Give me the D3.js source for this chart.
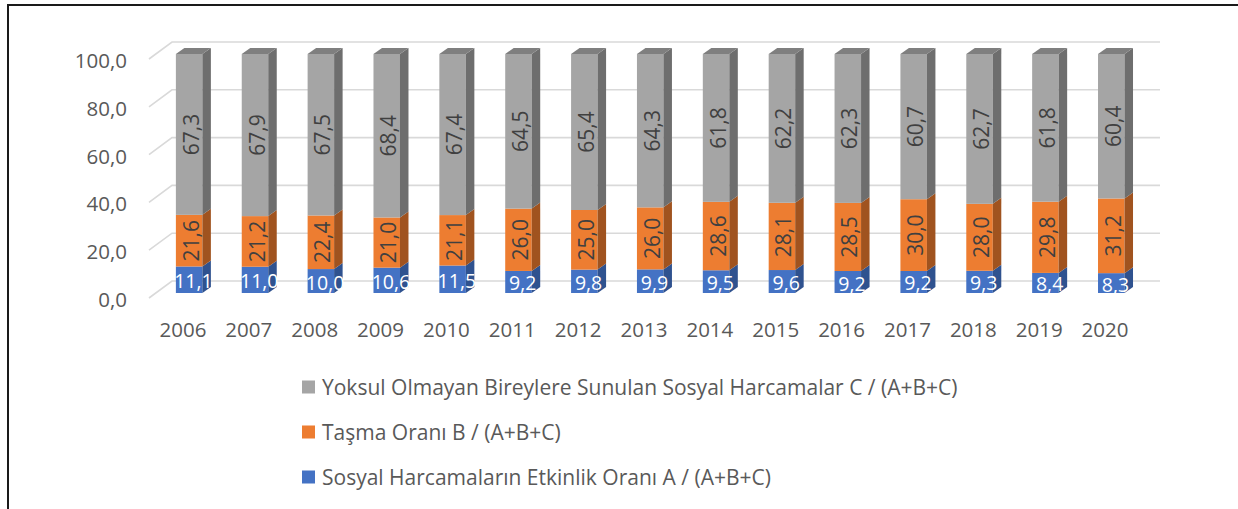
<!DOCTYPE html>
<html>
<head>
<meta charset="utf-8">
<script src="https://cdn.jsdelivr.net/npm/d3@7"></script>
<style>
  html, body { margin: 0; padding: 0; background: #fff; }
  svg { display: block; font-family: "Open Sans", sans-serif; }
</style>
</head>
<body>
<svg id="chart" width="1238" height="509"></svg>
<script>
// Years on the category axis
const years = ["2006","2007","2008","2009","2010","2011","2012","2013","2014","2015","2016","2017","2018","2019","2020"];

// A / (A+B+C): effectiveness ratio of social spending
const seriesA = [11.1, 11.0, 10.0, 10.6, 11.5, 9.2, 9.8, 9.9, 9.5, 9.6, 9.2, 9.2, 9.3, 8.4, 8.3];
// B / (A+B+C): spillover ratio
const seriesB = [21.6, 21.2, 22.4, 21.0, 21.1, 26.0, 25.0, 26.0, 28.6, 28.1, 28.5, 30.0, 28.0, 29.8, 31.2];
// C / (A+B+C): spending going to non-poor individuals
const seriesC = [67.3, 67.9, 67.5, 68.4, 67.4, 64.5, 65.4, 64.3, 61.8, 62.2, 62.3, 60.7, 62.7, 61.8, 60.4];

const seriesNames = [
  "Sosyal Harcamaların Etkinlik Oranı A / (A+B+C)",
  "Taşma Oranı B / (A+B+C)",
  "Yoksul Olmayan Bireylere Sunulan Sosyal Harcamalar C / (A+B+C)"
];

const yTicks = [0, 20, 40, 60, 80, 100];

const svg = d3.select("#chart");
const locale = d3.formatLocale({ decimal: ",", thousands: ".", grouping: [3], currency: ["", ""] });
const fmt = locale.format(".1f");

// Back wall of the 3D plot area; depth projects down-left
const yBack = d3.scaleLinear().domain([0, 100]).range([281, 42]);
const xBack = d3.scaleBand().domain(years).range([172, 1160]);
const depth = { dx: -23, dy: 17 };          // back wall -> front plane
const barFront = { dx: -15.8, dy: 12 };      // front face of the bars
const barBack = { dx: -7.3, dy: 6 };         // rear face of the bars
const barW = 26.5;

// Chart frame
svg.append("line").attr("x1", 8).attr("y1", 5).attr("x2", 8).attr("y2", 509)
  .attr("stroke", "#1a1a1a").attr("stroke-width", 2);
svg.append("line").attr("x1", 7).attr("y1", 5).attr("x2", 1238).attr("y2", 5)
  .attr("stroke", "#1a1a1a").attr("stroke-width", 2);

// Gridlines on back wall plus side-wall diagonals
const grid = svg.append("g").attr("stroke", "#d9d9d9").attr("stroke-width", 1.6).attr("fill", "none");
yTicks.forEach(t => {
  const y = yBack(t);
  const x0 = xBack.range()[0], x1 = xBack.range()[1];
  grid.append("path").attr("d", `M${x0 + depth.dx},${y + depth.dy}L${x0},${y}L${x1},${y}`);
});

// Value axis labels (front plane)
svg.append("g").selectAll("text").data(yTicks).join("text")
  .attr("x", 127).attr("y", t => yBack(t) + depth.dy + 1)
  .attr("text-anchor", "end").attr("dominant-baseline", "central")
  .attr("font-size", 20.5).attr("fill", "#595959")
  .text(t => fmt(t));

// Category labels
svg.append("g").selectAll("text").data(years).join("text")
  .attr("x", d => xBack(d) + xBack.bandwidth() / 2 + depth.dx + 1)
  .attr("y", 329).attr("text-anchor", "middle").attr("dominant-baseline", "central")
  .attr("font-size", 20.5).attr("fill", "#595959")
  .text(d => d);

// Stack the three shares (100% stacked)
const rows = years.map((y, i) => ({ year: y, A: seriesA[i], B: seriesB[i], C: seriesC[i] }));
const stack = d3.stack().keys(["A", "B", "C"]).offset(d3.stackOffsetExpand);
const layers = stack(rows);

const colors = {
  A: { front: "#4472C4", side: "#2F528F", top: "#3A63AD", label: "#ffffff" },
  B: { front: "#ED7D31", side: "#A0531F", top: "#C8692A", label: "#404040" },
  C: { front: "#A5A5A5", side: "#6E6E6E", top: "#7F7F7F", label: "#404040" }
};
const values = { A: seriesA, B: seriesB, C: seriesC };

const bars = svg.append("g");
years.forEach((yr, i) => {
  const cx = xBack(yr) + xBack.bandwidth() / 2;
  const fx0 = cx - barW / 2 + barFront.dx, fx1 = cx + barW / 2 + barFront.dx;
  const bx1 = cx + barW / 2 + barBack.dx, bx0 = cx - barW / 2 + barBack.dx;
  const g = bars.append("g");
  layers.forEach(layer => {
    const key = layer.key;
    const [v0, v1] = layer[i];
    const yf0 = yBack(v0 * 100) + barFront.dy, yf1 = yBack(v1 * 100) + barFront.dy;
    const yb0 = yBack(v0 * 100) + barBack.dy, yb1 = yBack(v1 * 100) + barBack.dy;
    const c = colors[key];
    // front face
    g.append("rect").attr("x", fx0).attr("y", yf1).attr("width", barW).attr("height", yf0 - yf1)
      .attr("fill", c.front);
    // side face
    g.append("path").attr("d", `M${fx1},${yf0}L${fx1},${yf1}L${bx1},${yb1}L${bx1},${yb0}Z`)
      .attr("fill", c.side);
    // top face of the topmost segment
    if (key === "C") {
      g.append("path").attr("d", `M${fx0},${yf1}L${fx1},${yf1}L${bx1},${yb1}L${bx0},${yb1}Z`)
        .attr("fill", c.top);
    }
  });
  // labels
  layers.forEach(layer => {
    const key = layer.key;
    const [v0, v1] = layer[i];
    const ym = (yBack(v0 * 100) + yBack(v1 * 100)) / 2 + barFront.dy;
    const c = colors[key];
    const txt = fmt(values[key][i]);
    if (key === "A") {
      g.append("text").attr("x", (fx0 + bx1) / 2).attr("y", ym + 1)
        .attr("text-anchor", "middle").attr("dominant-baseline", "central")
        .attr("font-size", 19.5).attr("fill", c.label).text(txt);
    } else {
      const lx = (fx0 + fx1) / 2 + 1.5;
      g.append("text").attr("transform", `translate(${lx},${ym}) rotate(-90)`)
        .attr("text-anchor", "middle").attr("dominant-baseline", "central")
        .attr("font-size", 21).attr("fill", c.label).text(txt);
    }
  });
});

// Legend (top series first)
const legendKeys = ["C", "B", "A"];
const legend = svg.append("g");
legendKeys.forEach((k, j) => {
  const yc = 387 + j * 45;
  legend.append("rect").attr("x", 302).attr("y", yc - 6.5).attr("width", 13).attr("height", 13)
    .attr("fill", colors[k].front);
  legend.append("text").attr("x", 322).attr("y", yc).attr("dominant-baseline", "central")
    .attr("font-size", 21).attr("fill", "#595959")
    .text(seriesNames[["A", "B", "C"].indexOf(k)]);
});
</script>
</body>
</html>
